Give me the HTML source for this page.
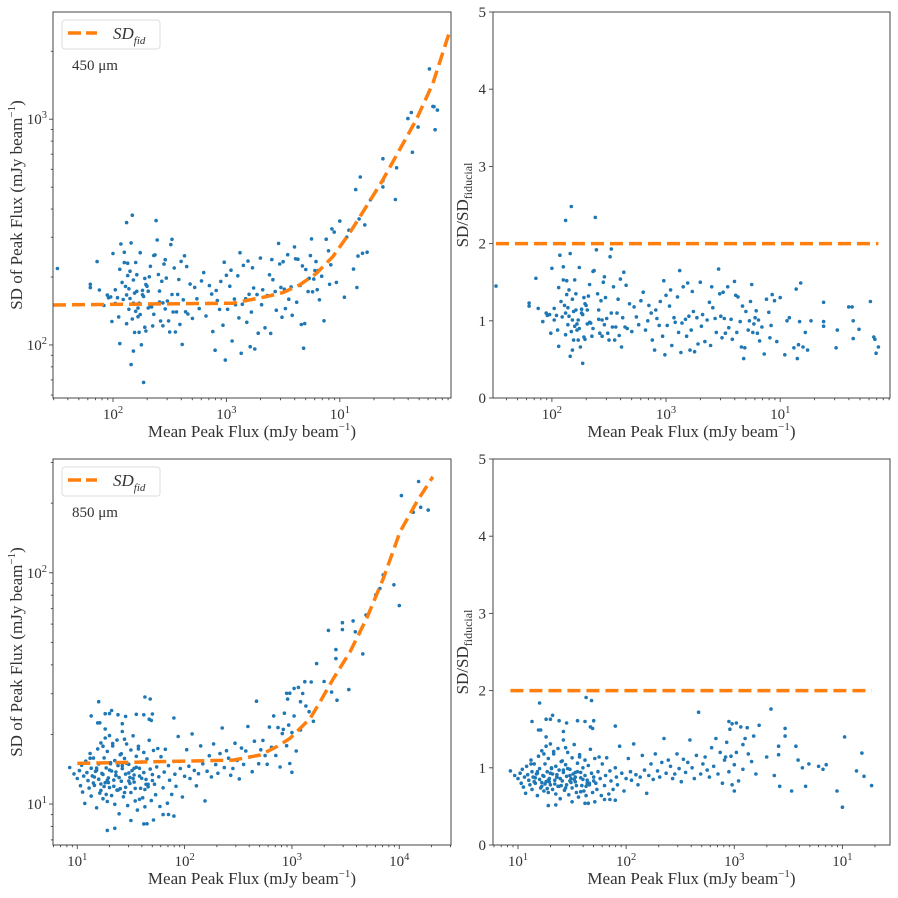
<!DOCTYPE html>
<html><head><meta charset="utf-8"><style>
body{margin:0;background:#fff}
svg text{font-family:"Liberation Serif","DejaVu Serif",serif;fill:#333}
</style></head><body>
<svg id="fig" width="898" height="893" viewBox="0 0 898 893" xmlns="http://www.w3.org/2000/svg"></svg>
<script>
// ---------- DATA ----------
const fid450LogX=[1.471,3.057,3.352,3.500,3.645,3.795,3.938,4.085,4.233,4.379,4.526,4.673,4.820,4.973];
const fid450LogY=[2.177,2.185,2.214,2.232,2.266,2.318,2.391,2.495,2.613,2.731,2.864,2.997,3.159,3.396];
const fid850LogX=[1.0,2.454,2.703,2.858,2.982,3.076,3.169,3.262,3.386,3.541,3.697,3.852,4.007,4.163,4.312];
const fid850LogY=[1.176,1.190,1.212,1.248,1.284,1.327,1.370,1.442,1.543,1.658,1.803,1.976,2.177,2.307,2.415];
const s450LogX=[1.51,1.80,1.80,1.86,1.88,1.92,1.96,1.98,1.99,2.0,1.95,2.02,2.02,2.04,2.05,2.06,2.06,2.07,2.08,2.12,2.10,2.10,2.11,2.12,2.13,2.13,2.14,2.15,2.16,2.16,2.17,2.18,2.18,2.19,2.20,2.21,2.21,2.22,2.23,2.23,2.17,2.24,2.25,2.26,2.27,2.28,2.28,2.29,2.30,2.31,2.31,2.32,2.33,2.34,2.35,2.36,2.37,2.38,2.39,2.40,2.41,2.42,2.43,2.44,2.44,2.45,2.46,2.47,2.48,2.49,2.50,2.51,2.52,2.52,2.53,2.54,2.55,2.56,2.57,2.58,2.59,2.60,2.61,2.62,2.63,2.64,2.65,2.66,2.68,2.70,2.72,2.74,2.76,2.78,2.80,2.82,2.84,2.85,2.87,2.88,2.90,2.91,2.92,2.94,2.95,2.97,2.98,2.99,3.00,3.01,3.03,3.04,3.05,3.07,3.08,3.10,3.11,3.12,3.13,3.14,3.15,3.17,3.18,3.19,3.20,3.21,3.22,3.23,3.24,3.25,3.27,3.28,3.30,3.31,3.32,3.34,3.36,3.38,3.39,3.40,3.41,3.43,3.44,3.46,3.47,3.48,3.49,3.50,3.51,3.52,3.54,3.55,3.57,3.58,3.60,3.61,3.62,3.63,3.65,3.66,3.67,3.68,3.69,3.70,3.72,3.73,3.74,3.75,3.76,3.77,3.78,3.79,3.80,3.81,3.82,3.84,3.86,3.88,3.90,3.91,3.92,3.93,3.95,3.97,4.00,4.04,4.06,4.08,4.12,4.14,4.15,4.16,4.17,4.18,4.20,4.22,4.24,4.27,4.38,4.38,4.38,4.49,4.50,4.60,4.63,4.64,4.64,4.69,4.79,4.82,4.83,4.84,4.86,2.09,2.14,2.19,2.24,2.29,2.33,2.15,2.20,2.26,2.12,2.18,2.22,2.27,2.36,2.41,2.46];
const s450Ratio=[1.45,1.23,1.19,1.55,1.16,0.99,1.07,1.08,0.84,1.68,1.10,1.16,1.01,1.07,0.88,0.67,1.43,1.85,1.25,2.30,1.70,1.53,1.20,1.10,1.52,1.34,1.17,1.40,1.87,0.54,0.86,1.01,0.62,0.75,1.53,1.35,1.14,0.88,0.75,1.01,2.48,1.69,0.66,1.10,0.45,1.30,0.79,0.76,1.20,0.96,1.14,1.32,1.47,0.97,0.80,1.64,1.65,2.34,1.92,1.35,1.14,0.84,1.26,1.01,0.80,1.50,1.57,1.30,1.03,0.84,0.75,1.83,1.93,1.10,0.92,1.44,0.75,0.92,1.10,1.28,0.81,1.54,0.66,1.04,1.63,0.92,1.46,0.90,1.22,0.86,1.18,1.05,0.95,1.26,1.37,0.88,1.00,1.20,1.10,0.75,0.62,1.14,1.03,0.94,1.25,0.80,1.52,0.56,1.33,0.94,1.19,1.40,0.68,1.04,0.98,1.31,0.85,1.65,0.59,0.97,1.44,1.02,0.80,1.49,1.06,0.62,0.88,1.38,1.12,0.60,1.04,0.70,1.50,0.93,1.08,0.73,1.01,1.24,0.68,1.44,1.17,1.03,0.85,1.67,1.35,1.06,0.78,1.37,1.03,0.84,1.44,0.91,1.02,0.76,1.51,1.33,0.85,1.31,0.99,0.66,1.19,0.51,0.65,1.12,0.88,1.00,1.25,1.47,0.85,0.96,1.04,1.13,0.84,1.01,0.74,0.92,0.57,1.28,1.11,0.78,0.94,1.34,1.26,0.73,1.30,0.56,1.00,1.04,0.65,1.41,0.51,0.69,0.99,1.49,0.66,0.85,0.62,1.00,0.99,0.93,1.24,0.65,0.88,1.18,1.18,1.00,0.77,0.89,1.25,0.79,0.76,0.58,0.66,1.05,0.95,1.12,0.90,1.22,0.98,1.06,0.93,1.15,0.82,1.28,0.96,1.08,0.90,1.02,0.95];
const s850LogX=[
0.93,0.97,1.00,1.02,1.03,1.04,1.05,1.06,1.07,1.08,
1.09,1.10,1.11,1.12,1.13,1.13,1.14,1.15,1.16,1.17,
1.18,1.19,1.20,1.20,1.21,1.22,1.23,1.24,1.25,1.26,
1.26,1.27,1.28,1.28,1.29,1.30,1.30,1.31,1.32,1.32,
1.33,1.34,1.35,1.35,1.36,1.37,1.38,1.38,1.39,1.40,
1.41,1.42,1.42,1.43,1.44,1.45,1.45,1.46,1.47,1.48,
1.49,1.50,1.50,1.51,1.52,1.53,1.54,1.55,1.55,1.56,
1.57,1.58,1.59,1.60,1.61,1.62,1.62,1.63,1.64,1.65,
1.66,1.67,1.68,1.69,1.70,1.71,1.72,1.73,1.74,1.75,
1.76,1.77,1.78,1.80,1.81,1.82,1.84,1.85,1.86,1.88,
1.90,1.91,1.92,1.94,1.96,1.98,2.00,2.02,2.04,2.05,
2.07,2.09,2.11,2.13,2.15,2.17,2.19,2.21,2.23,2.25,
2.27,2.29,2.31,2.33,2.35,2.37,2.39,2.41,2.43,2.45,
2.47,2.49,2.51,2.53,2.55,2.57,2.59,2.61,2.63,2.65,
2.67,2.69,2.71,2.73,2.75,2.77,2.79,2.81,2.83,2.85,
2.87,2.89,2.91,2.93,2.95,2.97,2.98,3.00,3.02,3.04,
3.06,3.08,3.10,3.13,3.16,3.20,3.23,3.34,3.37,3.41,
3.47,3.47,3.53,3.57,3.59,3.63,3.66,3.69,3.78,3.82,
3.95,4.00,4.02,4.13,4.18,4.20,4.27,2.95,2.98,3.00,
1.20,1.13,1.26,1.30,1.32,1.38,1.45,1.55,1.62,1.63,
1.68,1.70,1.90,1.19,1.21,1.26,1.42,1.67,1.69,1.28,
1.35,1.50,1.62,1.65,1.71,1.80,1.85,1.90,1.12,1.18,
1.24,1.29,1.33,1.37,1.41,1.46,1.52,1.57,1.22,1.27,
1.31,1.36,1.40,1.44,1.48,1.53,1.58,1.64,1.16,1.25,
1.15,1.22,1.28,1.34,1.39,1.44,1.49,1.54,1.60,1.66,
1.18,1.24,1.30,1.36,1.42,1.48,1.53,1.58,1.63,1.70,
3.85,3.41,3.42,3.30,3.18,3.12,3.08,3.02,2.96,2.92];
const s850Ratio=[
0.96,0.90,0.86,0.93,0.80,0.98,0.75,0.88,0.67,1.02,
0.91,0.84,0.78,1.10,0.95,0.72,0.88,1.05,0.80,0.92,
0.64,1.15,0.85,0.99,0.74,1.22,0.90,0.70,1.05,0.82,
1.28,0.95,0.68,1.12,0.86,0.78,1.31,1.00,0.72,0.92,
1.18,0.84,0.66,1.02,0.88,1.25,0.76,0.97,0.60,1.08,
0.83,0.94,1.36,0.71,1.04,0.89,0.78,1.20,0.65,0.98,
0.86,1.13,0.74,0.92,1.30,0.82,0.68,1.06,0.95,0.62,
1.17,0.87,0.77,1.00,0.70,1.10,0.90,0.64,0.84,1.03,
0.78,1.24,0.93,0.68,0.88,1.12,0.80,0.72,0.95,1.14,
0.86,0.64,1.05,0.77,0.90,1.13,0.66,0.96,0.83,0.72,
1.00,0.88,0.78,1.28,0.93,0.70,0.86,1.12,0.95,0.84,
1.31,0.91,0.78,0.88,1.16,0.97,0.67,0.90,1.05,0.85,
1.18,0.96,0.88,1.07,1.38,0.93,1.10,1.02,0.86,0.92,
1.18,0.99,0.82,1.11,0.94,1.07,1.36,1.00,0.86,1.16,
1.72,0.92,1.05,1.14,0.97,0.88,1.26,1.02,1.38,0.92,
1.20,0.80,1.10,1.33,0.95,1.15,0.78,1.04,1.20,0.83,
1.53,0.98,1.38,1.18,1.08,0.92,1.55,1.76,0.90,1.28,
1.51,1.41,0.70,1.28,1.10,1.00,0.76,1.05,1.02,0.98,
0.70,0.49,1.40,0.96,1.19,0.89,0.77,1.60,1.57,0.70,
1.84,1.60,1.63,1.63,1.68,1.61,1.58,1.61,1.60,1.91,
1.87,1.61,1.54,1.49,1.49,1.40,1.47,1.53,1.51,0.51,
0.52,0.56,0.54,0.54,0.56,0.59,0.59,0.58,1.05,0.93,
1.18,0.82,1.21,0.76,1.09,0.99,0.85,1.14,0.81,0.73,
0.99,0.88,0.77,1.26,0.83,0.94,0.69,0.80,0.87,0.79,
0.82,0.76,0.84,0.79,0.86,0.74,0.81,0.77,0.85,0.80,
0.95,0.89,0.93,0.91,0.97,0.90,0.88,0.94,0.76,0.83,
1.04,1.17,0.76,1.14,1.41,1.52,1.30,1.58,1.50,1.14];
const yTicksRatio=[0,1,2,3,4,5];

// ---------- DRAW ----------
const NS="http://www.w3.org/2000/svg";
const svg=document.getElementById('fig');
function el(tag,attrs,parent){const e=document.createElementNS(NS,tag);for(const k in attrs)e.setAttribute(k,attrs[k]);(parent||svg).appendChild(e);return e;}
function interp(xs,ys,x){if(x<=xs[0])return ys[0];for(let i=1;i<xs.length;i++){if(x<=xs[i]){const t=(x-xs[i-1])/(xs[i]-xs[i-1]);return ys[i-1]+t*(ys[i]-ys[i-1]);}}const n=xs.length;return ys[n-1]+(x-xs[n-1])*(ys[n-1]-ys[n-2])/(xs[n-1]-xs[n-2]);}
function powLabel(g,x,y,base,exp,anchor){
  const t=el('text',{x:x,y:y,'font-size':15,'text-anchor':anchor},g);
  t.appendChild(document.createTextNode(base));
  const s=el('tspan',{dy:-6,'font-size':10.5},t);s.textContent=exp;
  return t;
}
function panel(p){
  const g=el('g',{});
  
  
  const X=v=>p.x0+(v-p.xmin)/(p.xmax-p.xmin)*(p.x1-p.x0);
  const Y=v=>p.y1-(v-p.ymin)/(p.ymax-p.ymin)*(p.y1-p.y0);
  const xt=el('g',{},g);
  
  
  for(let d=Math.floor(p.xmin);d<=Math.ceil(p.xmax);d++){
    for(let k=1;k<10;k++){const lv=d+Math.log10(k);if(lv<p.xmin||lv>p.xmax)continue;const px=X(lv);
      el('line',{x1:px,x2:px,y1:p.y1,y2:p.y1+(k==1?4:2.2),stroke:'#444','stroke-width':0.9},xt);
      if(k==1){const lb=powLabel(xt,px,p.y1+21,'10',p.xlab[d]||String(d),'middle');}}
  }
  const yt=el('g',{},g);
  
  
  if(p.ylog){
    for(let d=Math.floor(p.ymin);d<=Math.ceil(p.ymax);d++){
      for(let k=1;k<10;k++){const lv=d+Math.log10(k);if(lv<p.ymin||lv>p.ymax)continue;const py=Y(lv);
        el('line',{x1:p.x0,x2:p.x0-(k==1?4:2.2),y1:py,y2:py,stroke:'#444','stroke-width':0.9},yt);
        if(k==1){const lb=powLabel(yt,p.x0-6,py+5,'10',String(d),'end');}}
    }
  } else {
    yTicksRatio.forEach(v=>{const py=Y(v);
      el('line',{x1:p.x0,x2:p.x0-4,y1:py,y2:py,stroke:'#444','stroke-width':0.9},yt);
      const lb=el('text',{x:p.x0-7,y:py+5,'font-size':15,'text-anchor':'end'},yt);lb.textContent=v;
      
      
    });
  }
  const pts=el('g',{fill:'#1f77b4'},g);
  
  
  for(let i=0;i<p.lx.length;i++){
    const yv=p.ylog? Math.log10(p.r[i])+interp(p.fx,p.fy,p.lx[i]) : p.r[i];
    if(yv<p.ymin||yv>p.ymax)continue;
    const c=el('circle',{cx:X(p.lx[i]).toFixed(1),cy:Y(yv).toFixed(1),r:1.8},pts);
    
    
  }
  let d='';
  if(p.ylog){p.fx.forEach((v,i)=>{d+=(i?'L':'M')+X(Math.max(v,p.xmin)).toFixed(1)+','+Y(p.fy[i]).toFixed(1);});}
  else{const lo=Math.min(...p.lx),hi=Math.max(...p.lx);d='M'+X(lo)+','+Y(2)+'L'+X(hi)+','+Y(2);}
  const fl=el('path',{d:d,fill:'none',stroke:'#ff7f0e','stroke-width':3.5,'stroke-dasharray':'13,6','stroke-linejoin':'round'},g);
  
  
  const fr=el('rect',{x:p.x0,y:p.y0,width:p.x1-p.x0,height:p.y1-p.y0,fill:'none',stroke:'#444','stroke-width':1},g);
  
  
  const xl=el('text',{x:(p.x0+p.x1)/2,y:p.y1+39,'font-size':17,'text-anchor':'middle'},g);
  xl.appendChild(document.createTextNode('Mean Peak Flux (mJy beam'));
  const xs=el('tspan',{dy:-7,'font-size':11},xl);xs.textContent='−1';
  const xe=el('tspan',{dy:7},xl);xe.textContent=')';
  
  
  const cy=(p.y0+p.y1)/2;
  const yl=el('text',{x:0,y:0,'font-size':17,'text-anchor':'middle',transform:`translate(${p.ylx},${cy}) rotate(-90)`},g);
  if(p.ylog){yl.appendChild(document.createTextNode('SD of Peak Flux (mJy beam'));const a=el('tspan',{dy:-7,'font-size':11},yl);a.textContent='−1';const b=el('tspan',{dy:7},yl);b.textContent=')';}
  else{yl.appendChild(document.createTextNode('SD/SD'));const a=el('tspan',{dy:4,'font-size':12},yl);a.textContent='fiducial';}
  
  
  if(p.legend){
    const lg=el('g',{},g);
    
    
    el('rect',{x:p.x0+9,y:p.y0+8,width:98,height:29,rx:3,fill:'#fff',stroke:'#ddd','stroke-width':1},lg);
    el('line',{x1:p.x0+15,x2:p.x0+44,y1:p.y0+21,y2:p.y0+21,stroke:'#ff7f0e','stroke-width':3.5,'stroke-dasharray':'13,5'},lg);
    const lt=el('text',{x:p.x0+60,y:p.y0+27,'font-size':17,'font-style':'italic'},lg);
    lt.appendChild(document.createTextNode('SD'));const sb=el('tspan',{dy:5,'font-size':11},lt);sb.textContent='fid';
    
    
    const wl=el('text',{x:p.x0+19,y:p.y0+58,'font-size':15},g);wl.textContent=p.legend;
    
    
  }
}
panel({name:'panel-450-sd',x0:53,x1:451,y0:12,y1:398,xmin:1.471,xmax:4.98,ymin:1.765,ymax:3.475,ylog:true,lx:s450LogX,r:s450Ratio,fx:fid450LogX,fy:fid450LogY,xlab:{4:'1'},ylx:22,legend:'450 μm'});
panel({name:'panel-450-ratio',x0:493,x1:890,y0:12,y1:398,xmin:1.484,xmax:4.962,ymin:0,ymax:5,ylog:false,lx:s450LogX,r:s450Ratio,xlab:{4:'1'},ylx:468});
panel({name:'panel-850-sd',x0:53,x1:451,y0:459,y1:845,xmin:0.774,xmax:4.482,ymin:0.823,ymax:2.492,ylog:true,lx:s850LogX,r:s850Ratio,fx:fid850LogX,fy:fid850LogY,xlab:{},ylx:22,legend:'850 μm'});
panel({name:'panel-850-ratio',x0:493,x1:890,y0:459,y1:845,xmin:0.769,xmax:4.44,ymin:0,ymax:5,ylog:false,lx:s850LogX,r:s850Ratio,xlab:{4:'1'},ylx:468});
</script>
</body></html>
